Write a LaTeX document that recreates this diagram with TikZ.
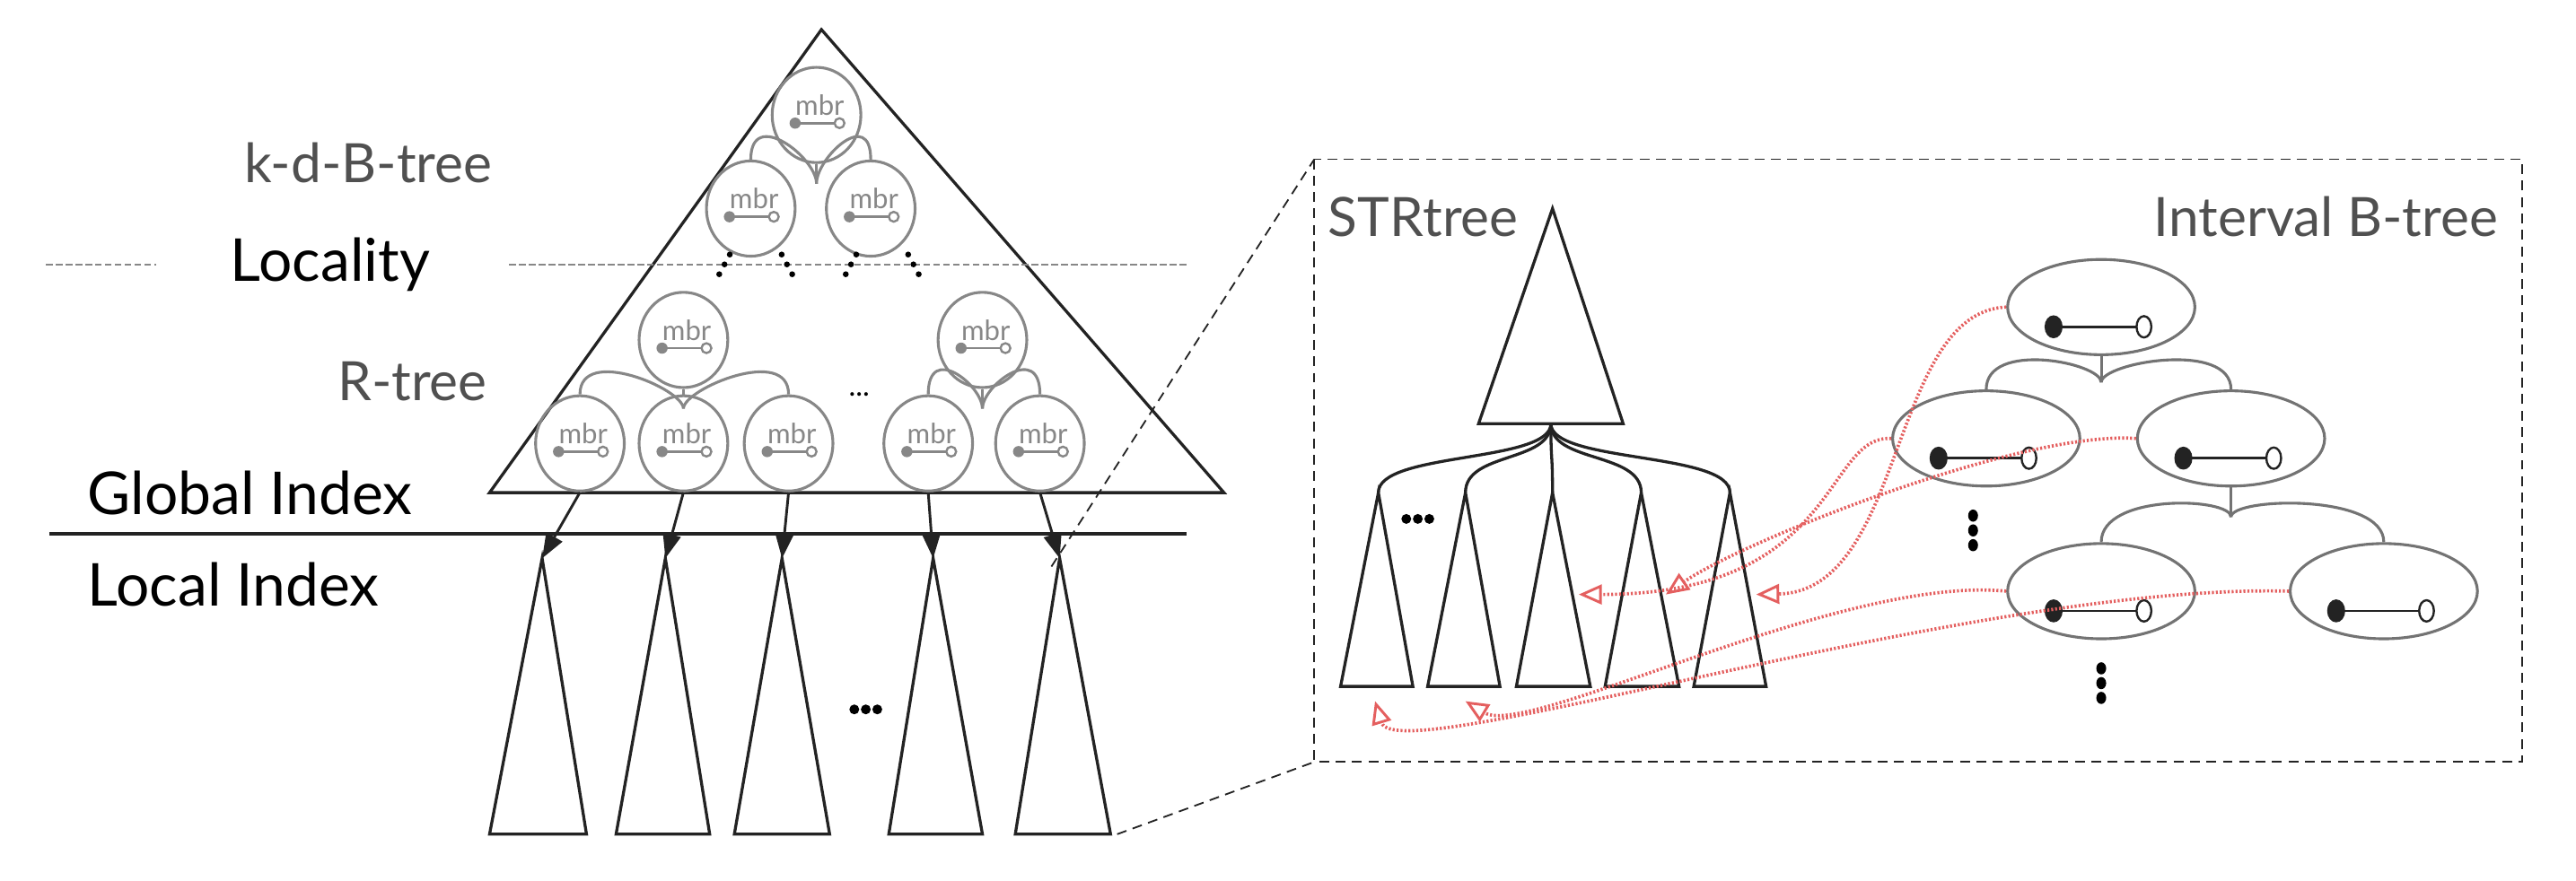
\documentclass[tikz,border=0pt]{standalone}
\usepackage{fontspec}
\setmainfont{Lato}
\usetikzlibrary{arrows.meta,calc,shapes.geometric}
\definecolor{mg}{RGB}{135,135,135}
\definecolor{bg}{RGB}{115,115,115}
\definecolor{tg}{RGB}{80,80,80}
\definecolor{rd}{RGB}{228,95,95}
\definecolor{dk}{RGB}{35,35,35}
\newcommand{\mbrnode}[3]{%
  \node[mbrc] (#1) at (#2,#3) {};
  \node[mbrt] at (#2+2,#3-6) {mbr};
  \draw[mg,line width=1.5pt] (#2-13,#3+5) -- (#2+13,#3+5);
  \fill[mg] (#2-13,#3+5) circle (3.4);
  \draw[mg,line width=1.3pt,fill=white] (#2+14,#3+5) circle (3);
}
\newcommand{\ivnode}[3]{%
  \node[ivc] (#1) at (#2,#3) {};
  \draw[dk,line width=1.5pt] (#2-29,#3+12) -- (#2+25,#3+12);
  \fill[dk] (#2-29,#3+12) ellipse (5.5 and 7);
  \draw[dk,line width=1.3pt,fill=white] (#2+26,#3+12) ellipse (4.5 and 6.5);
}
\tikzset{
  mbrc/.style={draw=mg,line width=1.7pt,ellipse,minimum width=54pt,minimum height=58pt,inner sep=0pt},
  mbrt/.style={text=mg,font=\fontsize{17}{17}\selectfont,inner sep=0pt},
  ivc/.style={draw=bg,line width=1.7pt,ellipse,minimum width=114pt,minimum height=58pt,inner sep=0pt},
  tri/.style={draw=dk,line width=1.8pt,line join=miter},
  lnk/.style={draw=mg,line width=1.7pt},
  ilnk/.style={draw=bg,line width=1.7pt},
  ptr/.style={dk,line width=1.6pt,-{Triangle[length=15pt,width=11pt]}},
  red/.style={rd,line width=2pt,dash pattern=on 1.2pt off 1.2pt,-{Triangle[open,length=14pt,width=12pt,line width=1.6pt]}},
  big/.style={font=\fontsize{36}{36}\selectfont},
  lab/.style={text=tg,font=\fontsize{33}{33}\selectfont},
}
\begin{document}
\begin{tikzpicture}[x=1pt,y=-1pt]
\useasboundingbox (0,0) rectangle (1568,536.5);
% big triangle
\draw[tri] (500,18) -- (745,300) -- (298,300) -- cycle;
% locality line
\draw[mg,line width=1.3pt,dash pattern=on 4pt off 2pt] (28,161) -- (95,161);
\draw[mg,line width=1.3pt,dash pattern=on 4pt off 2pt] (310,161) -- (722,161);
\node[big] (loc) at (201,161) {Locality};
\node[lab,anchor=east] (kdb) at (303,99) {k-d-B-tree};
\node[lab,anchor=east] (rt) at (300,232) {R-tree};
\node[big,anchor=west] (gi) at (50,300) {Global Index};
\node[big,anchor=west] (li) at (50,356) {Local Index};
\draw[dk,line width=2.2pt] (30,325) -- (722,325);
% mbr nodes
\mbrnode{k0}{497}{70}
\mbrnode{k1}{457}{127}
\mbrnode{k2}{530}{127}
\mbrnode{r0}{416}{207}
\mbrnode{r1}{598}{207}
\mbrnode{b1}{353}{270}
\mbrnode{b2}{416}{270}
\mbrnode{b3}{480}{270}
\mbrnode{b4}{565}{270}
\mbrnode{b5}{633}{270}
% links
\coordinate (jk) at ($(k0.south)+(0,12)$);
\draw[lnk] (k0.south) -- (jk);
\foreach \c in {k1,k2} \draw[lnk] (\c.north) .. controls +(0,-32) and +(0,-16) .. (jk);
\coordinate (jr0) at ($(r0.south)+(0,12)$);
\draw[lnk] (r0.south) -- (b2.north);
\foreach \c in {b1,b3} \draw[lnk] (\c.north) .. controls +(0,-30) and +(0,-12) .. (jr0);
\coordinate (jr1) at ($(r1.south)+(0,12)$);
\draw[lnk] (r1.south) -- (jr1);
\foreach \c in {b4,b5} \draw[lnk] (\c.north) .. controls +(0,-32) and +(0,-14) .. (jr1);
% dots near locality
\foreach \x/\s in {441/1,479/-1,518/1,556/-1}{
  \foreach \k in {-1,0,1} \fill (\x-\s*\k*3.2,161+\k*6) circle (1.8);
}
\node[font=\fontsize{18}{18}\selectfont] (ed1) at (523,240) {...};
% local triangles
\foreach \n/\a/\l/\r in {t1/330/298/357,t2/405/375/432,t3/476/447/505,t4/568/541/598,t5/645/618/676}{
  \draw[tri] (\a,340) -- (\r,508) -- (\l,508) -- cycle;
  \coordinate (\n) at (\a,340);
}
\draw[ptr] (b1.south) -- (t1);
\draw[ptr] (b2.south) -- (t2);
\draw[ptr] (b3.south) -- (t3);
\draw[ptr] (b4.south) -- (t4);
\draw[ptr] (b5.south) -- (t5);
\foreach \k in {-1,0,1} \fill (527+\k*7,432) circle (3);
% zoom box
\draw[dk,line width=1pt,dash pattern=on 6pt off 4pt] (800,97) rectangle (1535,464);
\draw[dk,line width=1pt,dash pattern=on 6pt off 4pt] (640,345) -- (800,97);
\draw[dk,line width=1pt,dash pattern=on 6pt off 4pt] (680,508) -- (800,464);
\node[lab,anchor=west] (str) at (805,132) {STRtree};
\node[lab,anchor=east] (ibt) at (1524,132) {Interval B-tree};
% STR tree
\draw[tri] (945,127) -- (988,258) -- (900,258) -- cycle;
\coordinate (sb) at (944,258);
\foreach \n/\a/\l/\r in {s1/839/816/860,s2/892/869/913,s3/945/923/968,s4/999/977/1022,s5/1053/1031/1075}{
  \draw[tri] (\a,300) -- (\r,418) -- (\l,418) -- cycle;
  \coordinate (\n) at (\a,300);
  \draw[tri] (sb) .. controls (944,282) and (\a,275) .. (\n);
}
\foreach \k in {-1,0,1} \fill (863+\k*7,316) circle (3);
% interval B-tree
\ivnode{e1}{1279}{187}
\ivnode{e2}{1209}{267}
\ivnode{e3}{1358}{267}
\ivnode{e4}{1279}{360}
\ivnode{e5}{1451}{360}
\coordinate (je1) at ($(e1.south)+(0,16)$);
\draw[ilnk] (e1.south) -- (je1);
\foreach \c in {e2,e3} \draw[ilnk] (\c.north) .. controls +(0,-30) and +(0,-12) .. (je1);
\coordinate (je3) at ($(e3.south)+(0,18)$);
\draw[ilnk] (e3.south) -- (je3);
\foreach \c in {e4,e5} \draw[ilnk] (\c.north) .. controls +(0,-30) and +(0,-12) .. (je3);
\foreach \k in {-1,0,1} {\fill (1201,323+\k*9) ellipse (3 and 3.7); \fill (1279,416+\k*9) ellipse (3 and 3.7);}
% red pointers
\coordinate (a1) at (961,362);
\coordinate (a2) at (1014,362);
\coordinate (a3) at (1069,362);
\coordinate (a4) at (837,427);
\coordinate (a5) at (892,427);
\draw[red] (e1.west) .. controls (1150,190) and (1160,360) .. (a3);
\draw[red] (e2.west) .. controls (1110,265) and (1120,362) .. (a1);
\draw[red] (e3.west) .. controls (1230,262) and (1060,330) .. (a2);
\draw[red] (e4.west) .. controls (1120,350) and (930,450) .. (a5);
\draw[red] (e5.west) .. controls (1200,355) and (850,470) .. (a4);
\end{tikzpicture}
\end{document}
